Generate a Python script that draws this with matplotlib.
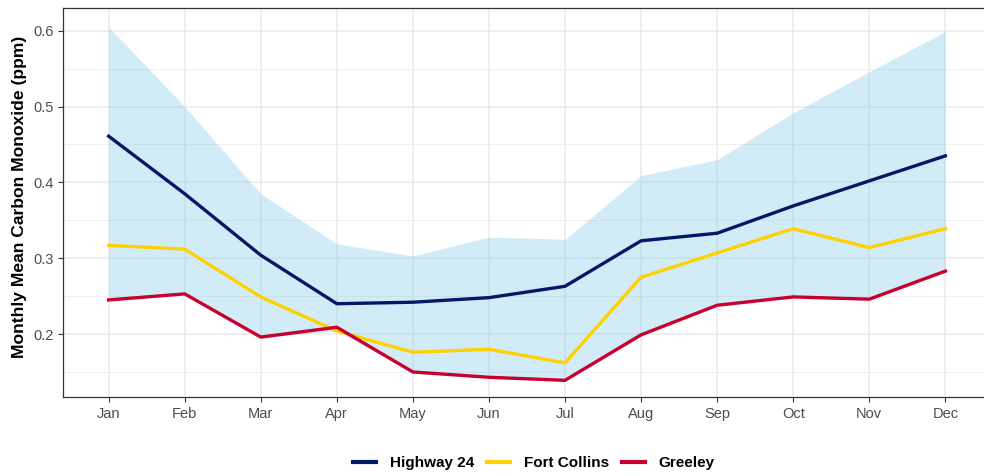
import matplotlib
matplotlib.use("Agg")
import matplotlib.pyplot as plt
from matplotlib.ticker import MultipleLocator

plt.rcParams['font.family'] = ['Liberation Sans', 'DejaVu Sans']

months = ['Jan', 'Feb', 'Mar', 'Apr', 'May', 'Jun', 'Jul', 'Aug', 'Sep', 'Oct', 'Nov', 'Dec']
highway24 = [0.461, 0.385, 0.304, 0.240, 0.242, 0.248, 0.263, 0.323, 0.333, 0.369, 0.402, 0.435]
fort_collins = [0.317, 0.312, 0.249, 0.204, 0.176, 0.180, 0.162, 0.275, 0.307, 0.339, 0.314, 0.339]
greeley = [0.245, 0.253, 0.196, 0.209, 0.150, 0.143, 0.139, 0.199, 0.238, 0.249, 0.246, 0.283]
band_upper = [0.605, 0.500, 0.385, 0.319, 0.303, 0.328, 0.325, 0.409, 0.430, 0.492, 0.546, 0.599]
band_lower = [0.245, 0.253, 0.196, 0.204, 0.150, 0.143, 0.139, 0.199, 0.238, 0.249, 0.246, 0.283]

x = list(range(len(months)))

fig = plt.figure(figsize=(9.84, 4.76), dpi=100)
ax = fig.add_axes([63 / 984, 79 / 476, (991 - 63) / 984, (397 - 8) / 476])

# ribbon first, then the three station lines
ax.fill_between(x, band_lower, band_upper, color='#87CEEB', alpha=0.37, linewidth=0, zorder=2)
ax.plot(x, highway24, color='#001A66', lw=2.4, label='Highway 24', zorder=3)
ax.plot(x, fort_collins, color='#FFD100', lw=2.4, label='Fort Collins', zorder=3)
ax.plot(x, greeley, color='#C8002E', lw=2.4, label='Greeley', zorder=3)

ax.set_xlim(-0.6, 11.6)
ax.set_ylim(0.117, 0.630)
ax.set_xticks(x)
ax.set_xticklabels(months)
ax.yaxis.set_minor_locator(MultipleLocator(0.05))
ax.set_yticks([0.2, 0.3, 0.4, 0.5, 0.6])
ax.set_yticklabels(['0.2', '0.3', '0.4', '0.5', '0.6'])

ax.grid(True, which='major', color='#EBEBEB', lw=1.1, zorder=0)
ax.grid(True, which='minor', axis='y', color='#EBEBEB', lw=0.6, zorder=0)
ax.set_axisbelow(True)
ax.tick_params(axis='both', which='major', colors='#333333', labelcolor='#4D4D4D',
               labelsize=10.5, length=3.5, width=0.8)
ax.tick_params(axis='y', which='minor', length=0)
for s in ax.spines.values():
    s.set_color('#333333')
    s.set_linewidth(0.9)

ax.set_ylabel('Monthly Mean Carbon Monoxide (ppm)', fontsize=12.6, fontweight='bold')
ax.yaxis.set_label_coords(-0.039, 0.515)

leg = fig.legend(loc='center', bbox_to_anchor=(534 / 984, 13 / 476), ncol=3, frameon=False,
                 handlelength=1.5, columnspacing=0.85, handletextpad=0.9,
                 prop={'weight': 'bold', 'size': 11})
for h in leg.legend_handles:
    h.set_linewidth(3)

fig.savefig('out.png', dpi=100)
